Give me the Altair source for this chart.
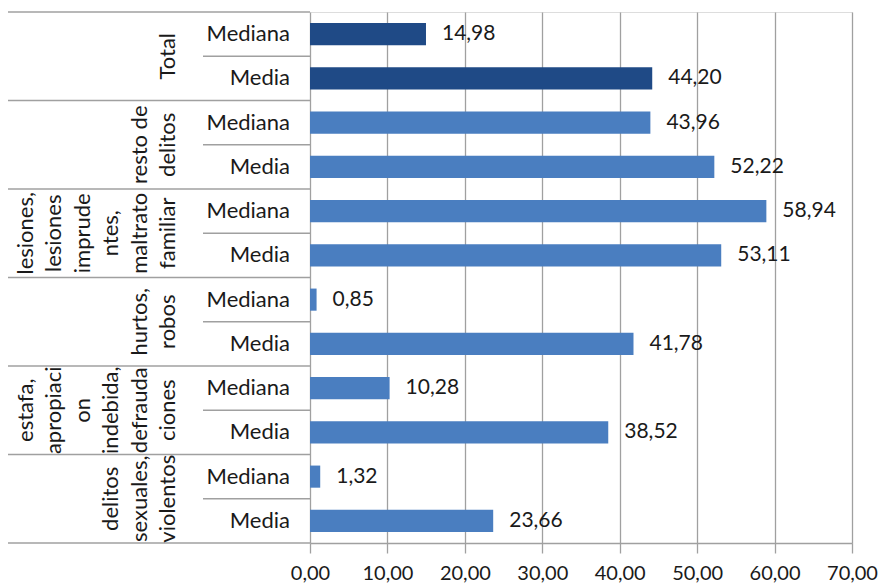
import altair as alt
import pandas as pd

# ---- data ----
group_lines = [
    "Total",
    "resto de\ndelitos",
    "lesiones,\nlesiones\nimprude\nntes,\nmaltrato\nfamiliar",
    "hurtos,\nrobos",
    "estafa,\napropiaci\non\nindebida,\ndefrauda\nciones",
    "delitos\nsexuales,\nviolentos",
]
stats = ["Mediana", "Media"]
medianas = [14.98, 43.96, 58.94, 0.85, 10.28, 1.32]
medias = [44.20, 52.22, 53.11, 41.78, 38.52, 23.66]
x_ticks = [0, 10, 20, 30, 40, 50, 60, 70]

DARK = "#1F4A86"
LIGHT = "#4A7EC0"
GRID = "#A0A0A0"
TXT = "#1A1A1A"
FONT = "Lato"
LH = 28.5

rows = []
for k, g in enumerate(group_lines):
    for j, (s, v) in enumerate(zip(stats, [medianas[k], medias[k]])):
        rows.append({"grupo": g, "stat": s, "valor": v, "row": 2 * k + j,
                     "tipo": "total" if k == 0 else "otros"})
df = pd.DataFrame(rows)

gdf = pd.DataFrame({"grupo": group_lines, "gidx": list(range(len(group_lines))),
                    "nlines": [g.count("\n") + 1 for g in group_lines]})
sep_df = pd.DataFrame({"gidx": list(range(len(group_lines) + 1))})

yscale = alt.Scale(domain=[0, 12], reverse=True, nice=False, zero=False)
xscale = alt.Scale(domain=[0, 70], nice=False)

base = alt.Chart(df).transform_calculate(
    y0="datum.row + 0.25", y1="datum.row + 0.75", yc="datum.row + 0.5",
    lbl="replace(format(datum.valor, '.2f'), '.', ',')",
)

bars = base.mark_bar().encode(
    x=alt.X("valor:Q", scale=xscale, axis=alt.Axis(
        values=x_ticks, grid=True, gridColor=GRID, gridWidth=1.3,
        domainColor=GRID, domainWidth=1.3, tickColor=GRID, tickWidth=1.3,
        tickSize=10, labelFont=FONT, labelFontSize=20, labelColor=TXT,
        labelPadding=10, labelOverlap=False, labelFlush=False, labelBound=False,
        title=None,
        labelExpr="replace(format(datum.value, '.2f'), '.', ',')")),
    x2=alt.datum(0),
    y=alt.Y("y0:Q", scale=yscale, axis=None),
    y2="y1:Q",
    color=alt.Color("tipo:N", scale=alt.Scale(domain=["total", "otros"], range=[DARK, LIGHT]), legend=None),
)

values = base.mark_text(align="left", baseline="middle", dx=16, font=FONT, fontSize=21, color=TXT).encode(
    x=alt.X("valor:Q", scale=xscale),
    y=alt.Y("yc:Q", scale=yscale),
    text="lbl:N",
)

stat_labels = base.mark_text(align="right", baseline="middle", font=FONT, fontSize=22, color=TXT).encode(
    x=alt.value(-20),
    y=alt.Y("yc:Q", scale=yscale),
    text="stat:N",
)

inner_sep = base.transform_filter("datum.stat == 'Media'").mark_rule(color=GRID, strokeWidth=1.5).encode(
    x=alt.value(-107), x2=alt.value(0),
    y=alt.Y("row:Q", scale=yscale),
)

group_sep = alt.Chart(sep_df).transform_calculate(ys="datum.gidx * 2").mark_rule(color=GRID, strokeWidth=1.5).encode(
    x=alt.value(-302), x2=alt.value(0),
    y=alt.Y("ys:Q", scale=yscale),
)

# one text layer per line count so the block of lines ends at the same right edge
group_layers = []
for n in sorted(set(gdf["nlines"])):
    group_layers.append(
        alt.Chart(gdf).transform_filter(f"datum.nlines == {n}")
        .transform_calculate(ym="datum.gidx * 2 + 1")
        .mark_text(angle=270, align="center", baseline="bottom", lineBreak="\n", lineHeight=LH,
                   font=FONT, fontSize=22, color=TXT)
        .encode(x=alt.value(-130 - (n - 1) * LH), y=alt.Y("ym:Q", scale=yscale), text="grupo:N")
    )

chart = alt.layer(bars, values, stat_labels, inner_sep, group_sep, *group_layers).properties(
    width=542, height=531,
    autosize=alt.AutoSizeParams(type="none"),
    padding={"left": 302, "top": 4, "right": 27, "bottom": 42},
).configure_view(stroke=None).configure(background="white")

chart.save("out.html", embed_options={"renderer": "svg", "actions": False})
